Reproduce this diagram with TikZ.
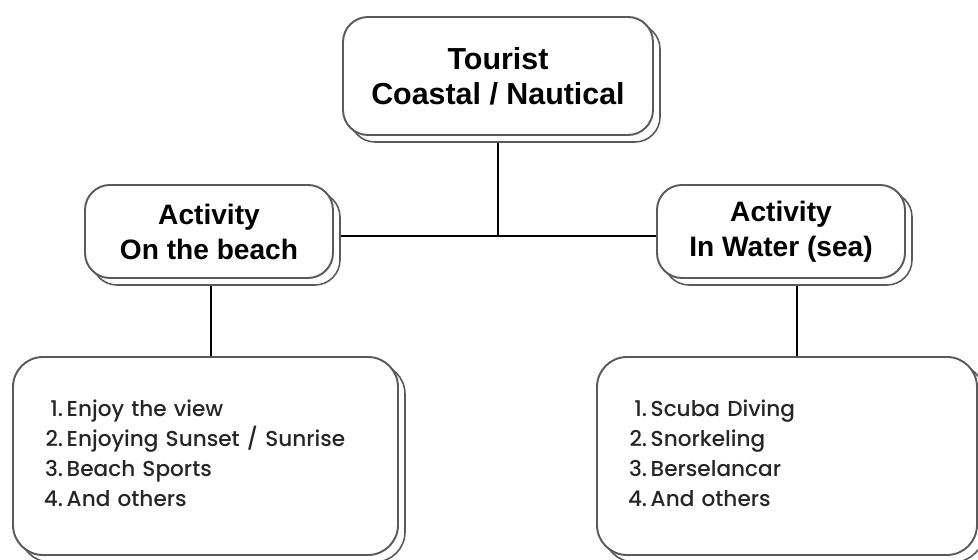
\documentclass[tikz,border=0pt]{standalone}
\usepackage{fontspec}
\setmainfont{Liberation Sans}
\newfontfamily\listfont{Poppins Medium}
\usetikzlibrary{shadows}
\definecolor{boxgray}{HTML}{5A5A5A}
\definecolor{textgray}{HTML}{262626}

\begin{document}
\begin{tikzpicture}[
    card/.style={draw=boxgray, line width=1.1pt, fill=white, rounded corners=0.5cm,
      copy shadow={shadow xshift=0.14cm, shadow yshift=-0.14cm, draw=boxgray, line width=0.9pt, fill=white},
      align=center, font=\bfseries},
    listcard/.style={card, rounded corners=0.6cm, minimum height=3.96cm, inner xsep=0.62cm,
      align=left, text=textgray, font=\listfont\fontsize{12.3}{17.07}\selectfont},
    link/.style={line width=1.7pt, black}]

    % --- 1. 描画範囲 ---
    \useasboundingbox (0, 0) rectangle (19.56, 11.2);

    % --- 2. 接続線 (箱の後ろに描く) ---
    \coordinate (hubL) at (4.18, 6.48);
    \coordinate (hubR) at (15.62, 6.48);
    \coordinate (dropR) at (15.94, 6.57);
    \draw[link] (hubL) -- (hubR);
    \draw[link] (9.96, 9.68) coordinate (hubT) -- (hubT |- hubL);
    \draw[link] (4.22, 6.57) coordinate (dropL) -- (dropL |- 0, 2.08);
    \draw[link] (dropR) -- (dropR |- 0, 2.08);

    % --- 3. 見出しの箱 ---
    \node[card, minimum width=6.2cm, minimum height=2.36cm,
      font=\bfseries\fontsize{17.3}{19.9}\selectfont] (tourist) at (hubT)
      {Tourist\\Coastal / Nautical};

    \node[card, minimum width=4.96cm, minimum height=1.86cm,
      font=\bfseries\fontsize{16}{19.9}\selectfont] (beach) at (4.18, 6.57)
      {Activity\\On the beach};
    \node[card, minimum width=4.96cm, minimum height=1.86cm,
      font=\bfseries\fontsize{16}{19.9}\selectfont] (water) at (15.62, 6.57)
      {Activity\\In Water (sea)};

    % --- 4. 活動の一覧 ---
    \node[listcard, text width=6.46cm] (beachlist) at (4.11, 2.08)
      {\begin{tabular}{@{}r@{\hspace{2pt}}l@{}}
        1. & Enjoy the view\\
        2. & Enjoying Sunset / Sunrise\\
        3. & Beach Sports\\
        4. & And others
      \end{tabular}};

    \node[listcard, text width=6.36cm] (waterlist) at (15.74, 2.08)
      {\begin{tabular}{@{}r@{\hspace{2pt}}l@{}}
        1. & Scuba Diving\\
        2. & Snorkeling\\
        3. & Berselancar\\
        4. & And others
      \end{tabular}};

  \end{tikzpicture}
\end{document}
